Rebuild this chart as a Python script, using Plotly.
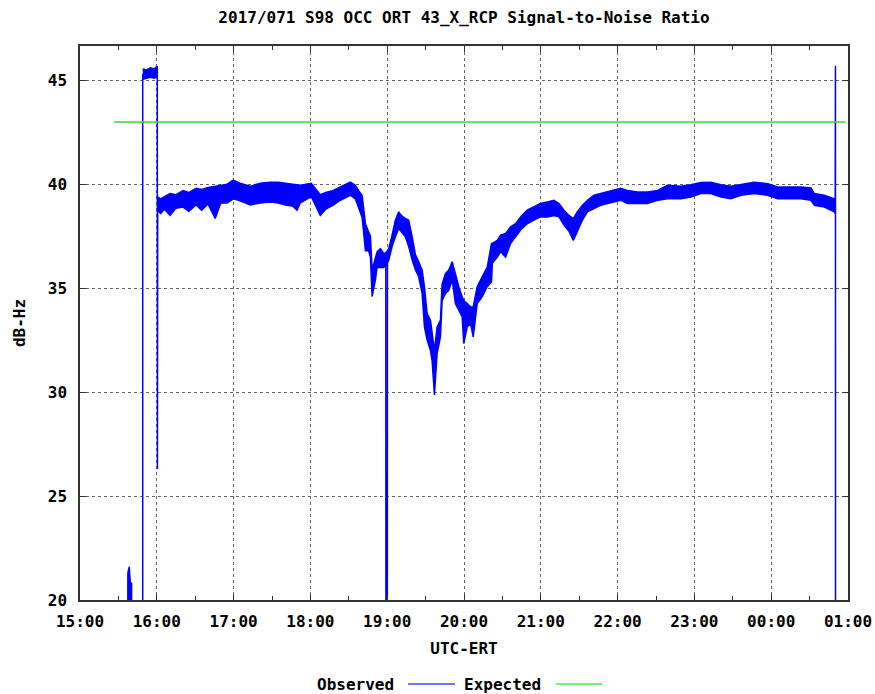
import datetime as dt
import plotly.graph_objects as go

# ---------------- data (minutes after 15:00 UTC on 2017/071) ----------------
BASE = dt.datetime(2017, 3, 12, 15, 0)
LOST = 0.0  # signal below the plotted range

# main noisy band of the observed SNR: time, lower and upper envelope (dB-Hz)
band_min = [60.5, 63, 66, 70.4, 75, 80.6, 85, 90.7, 95, 100, 105.6, 110, 115, 119.7,
            125, 133.0, 140.8, 148.6, 155, 160.4, 166, 169.5, 172.1, 180.7, 184, 187.7,
            192, 197.9, 203.4, 211.2, 215.1, 217.5, 220.4, 223.0, 225.5, 226.9, 228.2,
            229.5, 230.8, 232.1, 234.7, 237.3, 239.0, 241.2, 243.8, 246.4, 249.0, 250.9,
            254.2, 256.8, 259.5, 262.1, 264.6, 267.3, 269.1, 271.2, 273.8, 275.1, 276.9,
            279.0, 281.6, 282.9, 285.5, 288.1, 290.8, 293.3, 295.9, 298.6, 299.8, 302.5,
            305.1, 307.2, 310.3, 314.2, 318.1, 321.5, 322.1, 326.0, 328.6, 332.5, 336.4,
            340.3, 344.2, 349.4, 354.6, 359.8, 365.1, 370.2, 374.2, 378.1, 382.0, 385.4,
            388.5, 392.5, 396.4, 401.5, 406.8, 412.0, 417.2, 422.4, 427.7, 435.5, 443.3,
            451.2, 459.0, 469.4, 477.2, 485.0, 492.8, 500.7, 508.5, 516.3, 526.7, 537.2,
            545.0, 552.8, 563.2, 571.1, 573.7, 581.5, 589.3, 590.0]
band_low = [38.75, 38.6, 38.8, 38.5, 38.85, 38.9, 38.7, 39.0, 38.75, 39.05, 38.35, 39.1,
            39.1, 39.3, 39.2, 39.0, 39.1, 39.15, 39.1, 39.0, 38.95, 38.75, 39.1, 39.4,
            39.0, 38.5, 38.8, 39.0, 39.23, 39.47, 39.3, 38.9, 38.4, 36.8, 36.8, 36.5,
            34.6, 35.0, 35.4, 36.0, 36.0, 36.0, 36.1, 36.35, 37.0, 37.47, 37.87, 37.74,
            37.47, 37.0, 36.35, 35.87, 35.55, 34.75, 33.14, 32.5, 32.0, 31.5, 29.86,
            31.87, 32.66, 34.4, 34.75, 34.9, 35.4, 34.26, 33.94, 33.62, 32.34, 33.14,
            33.3, 32.66, 34.26, 34.58, 35.07, 35.3, 36.2, 36.5, 36.75, 36.5, 37.15,
            37.47, 37.8, 38.1, 38.27, 38.43, 38.43, 38.5, 38.43, 38.03, 37.74, 37.3,
            37.7, 38.27, 38.67, 38.83, 38.99, 39.07, 39.15, 39.23, 39.07, 39.07, 39.07,
            39.23, 39.3, 39.3, 39.39, 39.55, 39.55, 39.39, 39.3, 39.47, 39.55, 39.47,
            39.3, 39.3, 39.3, 39.23, 38.99, 38.9, 38.67, 38.6]
band_high = [39.39, 39.3, 39.4, 39.55, 39.5, 39.7, 39.6, 39.8, 39.75, 39.85, 39.9, 39.95,
             40.0, 40.2, 40.05, 39.9, 40.05, 40.1, 40.1, 40.05, 40.0, 39.95, 39.95, 40.05,
             39.8, 39.5, 39.6, 39.7, 39.87, 40.1, 39.95, 39.7, 39.47, 38.1, 37.7, 37.5,
             35.87, 36.2, 36.5, 36.75, 36.9, 36.67, 36.7, 36.9, 37.55, 38.27, 38.67, 38.5,
             38.35, 38.27, 37.47, 36.6, 36.27, 35.87, 35.07, 33.78, 33.46, 32.8, 32.0,
             33.14, 33.46, 35.2, 35.7, 35.87, 36.27, 35.7, 35.07, 34.58, 34.4, 34.26,
             34.1, 34.1, 35.07, 35.55, 36.0, 37.15, 37.15, 37.3, 37.55, 37.63, 37.95,
             38.1, 38.43, 38.75, 38.9, 39.07, 39.15, 39.23, 39.07, 38.75, 38.5, 38.35,
             38.67, 38.99, 39.23, 39.47, 39.55, 39.63, 39.7, 39.8, 39.7, 39.63, 39.63,
             39.7, 39.95, 39.9, 39.98, 40.08, 40.1, 39.98, 39.9, 39.98, 40.1, 40.03,
             39.87, 39.87, 39.87, 39.82, 39.55, 39.47, 39.3, 39.2]

# short plateau before 16:00
plat_min = [49.0, 52.0, 55.0, 58.0, 60.4]
plat_low = [45.05, 45.1, 45.15, 45.1, 45.2]
plat_high = [45.55, 45.5, 45.6, 45.55, 45.67]

# small burst near 15:37
burst_min = [37.3, 37.4, 38.5, 39.0, 39.3, 40.3, 40.4]
burst_high = [LOST, 21.3, 21.6, 21.1, 20.8, 20.8, LOST]

# abrupt jumps / drop-outs (None separates pieces)
jump_min = [49.0, 49.0, None, 60.4, 60.5, 60.7, None,
            238.9, 239.1, 240.0, 240.2, None, 590.0, 590.2, 590.3]
jump_snr = [LOST, 45.3, None, 45.4, 26.3, 39.0, None,
            36.3, LOST, LOST, 36.5, None, 38.9, 45.7, LOST]

# expected level
exp_min = [26.6, 598.0]
exp_snr = [43.0, 43.0]


def t(m):
    return None if m is None else BASE + dt.timedelta(minutes=m)


# ---------------- build polygons for the noisy bands ----------------
poly_x, poly_y = [], []
for tm, lo, hi in [(band_min, band_low, band_high),
                   (plat_min, plat_low, plat_high),
                   (burst_min, [LOST] * len(burst_min), burst_high)]:
    poly_x += [t(m) for m in tm] + [t(m) for m in tm[::-1]] + [None]
    poly_y += list(hi) + list(lo[::-1]) + [None]

BLUE = "#0000ff"
GREEN = "#33dd33"
FONT = "DejaVu Sans Mono"

fig = go.Figure()
fig.add_trace(go.Scatter(x=poly_x, y=poly_y, mode="lines", fill="toself",
                         fillcolor=BLUE, line=dict(color=BLUE, width=1.5),
                         name="Observed", showlegend=False, hoverinfo="skip"))
fig.add_trace(go.Scatter(x=[t(m) for m in jump_min], y=jump_snr, mode="lines",
                         line=dict(color=BLUE, width=1.5), name="Observed",
                         showlegend=False, connectgaps=False))
fig.add_trace(go.Scatter(x=[t(m) for m in exp_min], y=exp_snr, mode="lines",
                         line=dict(color=GREEN, width=1.5), name="Expected",
                         showlegend=False))

x0 = BASE
x1 = BASE + dt.timedelta(hours=10)

axis_common = dict(showline=True, linecolor="#333333", linewidth=1.5, mirror="ticks",
                   ticks="inside", tickcolor="#333333", ticklen=6, tickwidth=1,
                   showgrid=True, gridcolor="#666666", gridwidth=1, griddash="3px,3px",
                   zeroline=False, automargin=False,
                   tickfont=dict(family=FONT, size=16, color="black", weight="bold"))

fig.update_layout(
    width=875, height=694,
    margin=dict(l=80, r=27, t=46, b=94),
    plot_bgcolor="white", paper_bgcolor="white",
    font=dict(family=FONT, size=16, color="black", weight="bold"),
    title=dict(text="2017/071 S98 OCC ORT 43_X_RCP Signal-to-Noise Ratio",
               x=0.5, xref="paper", xanchor="center",
               y=1 - 17 / 694, yref="container", yanchor="middle",
               font=dict(family=FONT, size=16, color="black", weight="bold")),
    showlegend=False,
    xaxis=dict(type="date", range=[x0, x1], dtick=3600000, tick0=x0,
               tickformat="%H:%M", ticklabelstandoff=6,
               minor=dict(dtick=1800000, ticks="inside", ticklen=4,
                          tickcolor="#333333", showgrid=False),
               title=dict(text="UTC-ERT", standoff=13,
                          font=dict(family=FONT, size=16, color="black", weight="bold")),
               **axis_common),
    yaxis=dict(range=[20, 46.65], dtick=5, tick0=20, ticklabelstandoff=8,
               title=dict(text="dB-Hz", standoff=18,
                          font=dict(family=FONT, size=16, color="black", weight="bold")),
               **axis_common),
)

# legend drawn below the axis title: text first, then the line sample
LEG_Y = (600 - 684) / 554
fig.add_annotation(text="Observed", xref="paper", yref="paper", x=(396 - 80) / 768,
                   y=LEG_Y, xanchor="right", yanchor="middle", showarrow=False,
                   font=dict(family=FONT, size=16, color="black", weight="bold"))
fig.add_annotation(text="Expected", xref="paper", yref="paper", x=(462 - 80) / 768,
                   y=LEG_Y, xanchor="left", yanchor="middle", showarrow=False,
                   font=dict(family=FONT, size=16, color="black", weight="bold"))
fig.add_shape(type="line", xref="paper", yref="paper", x0=(408 - 80) / 768,
              x1=(455 - 80) / 768, y0=LEG_Y, y1=LEG_Y,
              line=dict(color="#4444ff", width=1.5))
fig.add_shape(type="line", xref="paper", yref="paper", x0=(556 - 80) / 768,
              x1=(602 - 80) / 768, y0=LEG_Y, y1=LEG_Y,
              line=dict(color="#44ee44", width=1.5))

fig.write_html("out.html",
               config={"displayModeBar": False},
               post_script="document.body.style.margin='0';"
                           "document.body.style.overflow='hidden';")
